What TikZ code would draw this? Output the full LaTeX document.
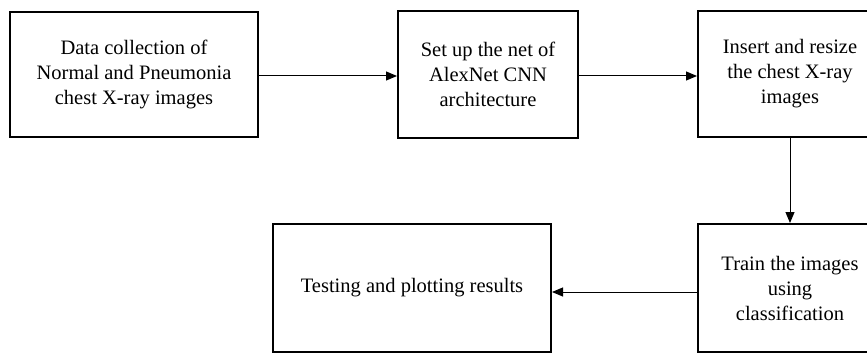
\documentclass[tikz,border=0pt]{standalone}
\usepackage{fontspec}
\setmainfont{Liberation Serif}
\usetikzlibrary{arrows.meta}
\begin{document}
\begin{tikzpicture}[x=1pt,y=1pt,
  box/.style={draw=black, line width=2pt, align=center, inner sep=0pt,
    font=\fontsize{20.5}{25}\selectfont},
  conn/.style={line width=1pt, -{Triangle[length=11pt,width=9pt]}}]
\clip (0,0) rectangle (867,354);
\fill[white] (0,0) rectangle (867,354);
\node[box, minimum width=248pt, minimum height=125pt] (b1) at (134,279.5)
  {Data collection of\\Normal and Pneumonia\\chest X-ray images};
\node[box, minimum width=180pt, minimum height=127pt] (b2) at (488,279.5)
  {Set up the net of\\AlexNet CNN\\architecture};
\node[box, minimum width=184pt, minimum height=126pt] (b3) at (790,280)
  {Insert and resize\\the chest X-ray\\images};
\node[box, minimum width=184pt, minimum height=128pt] (b4) at (790,66)
  {Train the images\\using\\classification};
\node[box, minimum width=278pt, minimum height=128pt] (b5) at (412,66)
  {Testing and plotting results};
\draw[conn] (b1.east |- 0,278) -- (b2.west |- 0,278);
\draw[conn] (b2.east |- 0,278) -- (b3.west |- 0,278);
\draw[conn] (b3.south) -- (b4.north);
\draw[conn] (b4.west |- 0,62) -- (b5.east |- 0,62);
\end{tikzpicture}
\end{document}
